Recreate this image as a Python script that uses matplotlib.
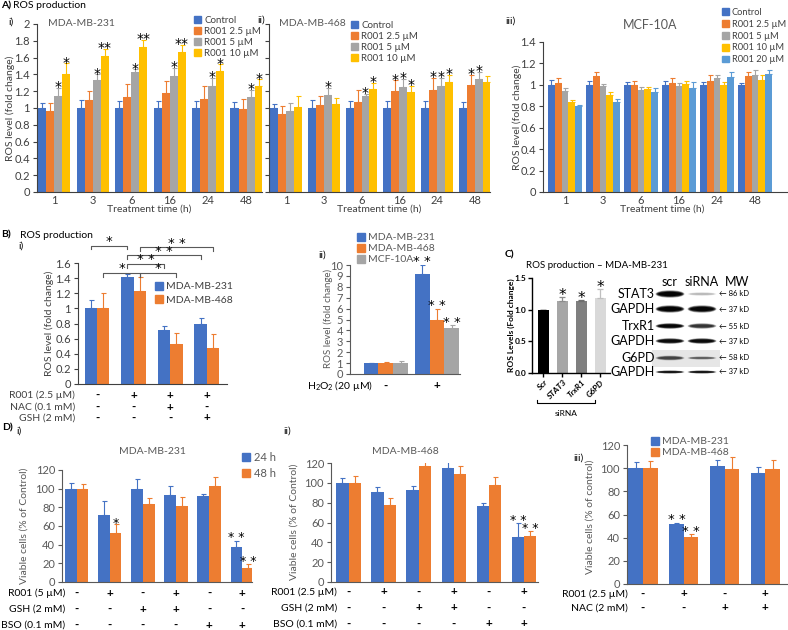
import numpy as np
import matplotlib.pyplot as plt
from matplotlib.patches import Patch, Ellipse, Rectangle
from matplotlib.transforms import blended_transform_factory
from matplotlib.ticker import FuncFormatter

plt.rcParams['font.family'] = ['Lato', 'DejaVu Sans']
plt.rcParams['mathtext.default'] = 'regular'

W, H = 788, 630
fig = plt.figure(figsize=(W / 100, H / 100), dpi=100)

BLUE, ORANGE, GREY, YELLOW, LBLUE = '#4472C4', '#ED7D31', '#A5A5A5', '#FFC000', '#5B9BD5'
DARK = '#404040'
MID = '#595959'

# ---------------- data ----------------
times = ['1', '3', '6', '16', '24', '48']
doses4 = ['Control', 'R001 2.5 µM', 'R001 5 µM', 'R001 10 µM']
doses5 = doses4 + ['R001 20 µM']

# A-i  MDA-MB-231
a1_mean = [[1, 1, 1, 1, 1, 1],
           [0.97, 1.09, 1.13, 1.18, 1.11, 0.99],
           [1.14, 1.33, 1.43, 1.38, 1.26, 1.13],
           [1.40, 1.62, 1.73, 1.67, 1.44, 1.26]]
a1_err = [[0.06, 0.10, 0.08, 0.08, 0.08, 0.07],
          [0.09, 0.11, 0.15, 0.14, 0.15, 0.12],
          [0.10, 0.07, 0.03, 0.10, 0.10, 0.09],
          [0.13, 0.08, 0.08, 0.08, 0.08, 0.08]]
a1_stars = [['', '', '', '', '', ''],
            ['', '', '', '', '', ''],
            ['*', '*', '*', '*', '*', '*'],
            ['*', '**', '**', '**', '*', '*']]

# A-ii  MDA-MB-468
a2_mean = [[1, 1, 1, 1, 1, 1],
           [0.93, 1.03, 1.07, 1.20, 1.21, 1.27],
           [0.97, 1.16, 1.14, 1.25, 1.26, 1.34],
           [1.01, 1.05, 1.23, 1.19, 1.31, 1.31]]
a2_err = [[0.05, 0.10, 0.08, 0.08, 0.08, 0.07],
          [0.09, 0.11, 0.15, 0.13, 0.15, 0.12],
          [0.09, 0.08, 0.03, 0.10, 0.10, 0.09],
          [0.13, 0.07, 0.07, 0.07, 0.08, 0.07]]
a2_stars = [['', '', '', '', '', ''],
            ['', '', '', '*', '*', '*'],
            ['', '*', '*', '*', '*', '*'],
            ['', '', '*', '*', '*', '']]

# A-iii  MCF-10A
a3_mean = [[1, 1, 1, 1, 1, 1],
           [1.02, 1.08, 1.00, 1.02, 1.04, 1.08],
           [0.94, 0.99, 0.95, 0.99, 1.06, 1.09],
           [0.84, 0.91, 0.96, 1.01, 1.00, 1.05],
           [0.80, 0.84, 0.93, 0.97, 1.07, 1.10]]
a3_err = [[0.05, 0.04, 0.03, 0.04, 0.03, 0.02],
          [0.04, 0.04, 0.04, 0.04, 0.05, 0.04],
          [0.03, 0.02, 0.03, 0.03, 0.03, 0.05],
          [0.02, 0.02, 0.02, 0.03, 0.03, 0.04],
          [0.01, 0.03, 0.04, 0.06, 0.05, 0.04]]

# B-i
cells2 = ['MDA-MB-231', 'MDA-MB-468']
b1_mean = [[1.00, 1.42, 0.71, 0.80],
           [1.00, 1.23, 0.53, 0.48]]
b1_err = [[0.11, 0.03, 0.06, 0.07],
          [0.20, 0.18, 0.15, 0.18]]
b1_rows = ['R001 (2.5 µM)', 'NAC (0.1 mM)', 'GSH (2 mM)']
b1_signs = [['-', '+', '+', '+'],
            ['-', '-', '+', '-'],
            ['-', '-', '-', '+']]
# significance brackets: (group a, series a, group b, series b, level, label)
b1_brackets = [(0, 0, 1, 0, 1.83, '*'),
               (1, 1, 3, 1, 1.81, '* *'),
               (1, 0, 3, 0, 1.70, '* *'),
               (1, 0, 2, 0, 1.59, '* *'),
               (0, 1, 1, 1, 1.47, '*'),
               (1, 1, 2, 1, 1.47, '*')]

# B-ii
cells3 = ['MDA-MB-231', 'MDA-MB-468', 'MCF-10A']
b2_mean = [[1.0, 9.2], [1.0, 4.95], [1.0, 4.2]]
b2_err = [[0.05, 0.8], [0.10, 1.05], [0.15, 0.25]]
b2_stars = [['', '* *'], ['', '* *'], ['', '* *']]
b2_signs = ['-', '+']

# C
c_cats = ['Scr', 'STAT3', 'TrxR1', 'G6PD']
c_mean = [1.0, 1.13, 1.13, 1.18]
c_err = [0.0, 0.07, 0.03, 0.15]
c_stars = ['', '*', '*', '*']
c_colors = ['#000000', '#A6A6A6', '#7F7F7F', '#D9D9D9']
c_ecolors = ['#000000', '#8C8C8C', '#6E6E6E', '#BFBFBF']
blot_rows = ['STAT3', 'GAPDH', 'TrxR1', 'GAPDH', 'G6PD', 'GAPDH']
blot_mw = ['86 kD', '37 kD', '55 kD', '37 kD', '58 kD', '37 kD']
blot_scr = [1.0, 1.0, 0.95, 0.9, 0.5, 0.85]
blot_sirna = [0.15, 0.95, 0.6, 0.9, 0.4, 0.85]

# D-i
times2 = ['24 h', '48 h']
d1_mean = [[100, 72, 100, 93, 92, 37],
           [100, 52, 84, 81, 103, 15]]
d1_err = [[6, 15, 10, 10, 2, 7],
          [5, 10, 6, 10, 10, 4]]
d1_stars = [['', '', '', '', '', '* *'],
            ['', '*', '', '', '', '* *']]
d1_rows = ['R001 (5 µM)', 'GSH (2 mM)', 'BSO (0.1 mM)']
d_signs = [['-', '+', '-', '+', '-', '+'],
           ['-', '-', '+', '+', '-', '-'],
           ['-', '-', '-', '-', '+', '+']]

# D-ii
d2_mean = [[100, 91, 93, 115, 77, 45],
           [100, 78, 117, 109, 98, 46]]
d2_err = [[5, 5, 4, 7, 3, 14],
          [7, 7, 8, 8, 8, 5]]
d2_stars = [['', '', '', '', '', '* *'],
            ['', '', '', '', '', '* *']]
d2_rows = ['R001 (2.5 µM)', 'GSH (2 mM)', 'BSO (0.1 mM)']

# D-iii
d3_mean = [[100, 52, 102, 96],
           [100, 41, 99, 99]]
d3_err = [[5, 1, 5, 5],
          [6, 2, 11, 8]]
d3_stars = [['', '* *', '', ''],
            ['', '* *', '', '']]
d3_rows = ['R001 (2.5 µM)', 'NAC (2 mM)']
d3_signs = [['-', '+', '-', '+'],
            ['-', '-', '+', '+']]

STAR = dict(family=['DejaVu Sans'], color='black')


# ---------------- helpers ----------------
def px_axes(l, t, r, b):
    return fig.add_axes([l / W, 1 - b / H, (r - l) / W, (b - t) / H])


def ftext(x, y, s, **kw):
    kw.setdefault('fontsize', 7.5)
    kw.setdefault('va', 'center')
    return fig.text(x / W, 1 - y / H, s, **kw)


def frame(ax, ymax, step, color=DARK, ticklabels=True, fs=8):
    for sp in ['top', 'right']:
        ax.spines[sp].set_visible(False)
    for sp in ['left', 'bottom']:
        ax.spines[sp].set_color(color)
        ax.spines[sp].set_linewidth(0.8)
    ax.set_ylim(0, ymax)
    ax.set_yticks(np.arange(0, ymax + step / 2, step))
    ax.yaxis.set_major_formatter(FuncFormatter(lambda v, p: f'{v:g}'))
    ax.tick_params(axis='y', length=3, width=0.8, color=color, labelsize=fs,
                   labelcolor=color, pad=2, labelleft=ticklabels)
    ax.tick_params(axis='x', length=0, labelsize=fs, labelcolor=color, pad=2)
    ax.patch.set_alpha(0)


def bars(ax, means, errs, colors, width, xlim, labels=None, stars=None, star_fs=10):
    n = len(means)
    x = np.arange(len(means[0]))
    for i in range(n):
        pos = x + (i - (n - 1) / 2) * width
        m = np.array(means[i], float)
        e = np.array(errs[i], float)
        ax.bar(pos, m, width, color=colors[i],
               label=labels[i] if labels else None, zorder=2)
        ax.errorbar(pos, m, yerr=[np.zeros_like(e), e], fmt='none',
                    ecolor=colors[i], elinewidth=0.8, capsize=1.8,
                    capthick=0.8, zorder=2)
        if stars:
            for xx, top, s in zip(pos, m + e, stars[i]):
                if s:
                    off = -2.5 if ' ' in s else -4.5
                    ax.annotate(s, (xx, top), xytext=(0, off),
                                textcoords='offset points', ha='center',
                                va='bottom', fontsize=star_fs,
                                annotation_clip=False, **STAR)
    ax.set_xlim(*xlim)
    ax.set_xticks(x)
    return x


def legend(ax, labels, colors, x, y, fs=7, color=DARK, spacing=0.12):
    handles = [Patch(color=c, label=l) for l, c in zip(labels, colors)]
    ax.legend(handles=handles, loc='upper left', bbox_to_anchor=(x / W, 1 - y / H),
              bbox_transform=fig.transFigure, frameon=False, fontsize=fs,
              borderaxespad=0, borderpad=0, labelspacing=spacing,
              handlelength=0.75, handleheight=0.75, handletextpad=0.3,
              labelcolor=color)


def cond_rows(ax, names, signs, ys, xr, color=DARK, fs=7.5):
    trans = blended_transform_factory(ax.transData, fig.transFigure)
    for name, row, y in zip(names, signs, ys):
        ftext(xr, y, name, ha='right', fontsize=fs, color=color)
        for i, s in enumerate(row):
            ax.text(i, 1 - y / H, s, transform=trans, ha='center', va='center',
                    fontsize=fs + 1, fontweight='bold', color='black')


# ---------------- Panel A ----------------
ftext(1, 6, 'A)', fontweight='bold', color='black')
ftext(13, 6, 'ROS production', color='black')

ax = px_axes(37, 24, 262, 192)
bars(ax, a1_mean, a1_err, [BLUE, ORANGE, GREY, YELLOW], 0.21, (-0.45, 5.4),
     doses4, a1_stars)
frame(ax, 2, 0.2)
ax.set_xticklabels(times)
ftext(8, 22, 'i)', color='black')
ftext(81, 24, 'MDA-MB-231', ha='center', color=MID)
ftext(10, 108, 'ROS level (fold change)', rotation=90, ha='center', color=DARK)
ftext(149, 209, 'Treatment time (h)', ha='center', color=DARK)
legend(ax, doses4, [BLUE, ORANGE, GREY, YELLOW], 194, 16, spacing=0.2)

ax = px_axes(269, 24, 490, 192)
bars(ax, a2_mean, a2_err, [BLUE, ORANGE, GREY, YELLOW], 0.21, (-0.45, 5.4),
     doses4, a2_stars)
frame(ax, 2, 0.2, ticklabels=False)
ax.set_xticklabels(times)
ftext(257, 20, 'ii)', color='black')
ftext(312, 24, 'MDA-MB-468', ha='center', color=MID)
ftext(379, 209, 'Treatment time (h)', ha='center', color=DARK)
legend(ax, doses4, [BLUE, ORANGE, GREY, YELLOW], 351, 21, spacing=0.2)

ax = px_axes(543, 42, 787, 192)
bars(ax, a3_mean, a3_err, [BLUE, ORANGE, GREY, YELLOW, LBLUE], 0.18, (-0.58, 5.84),
     doses5)
frame(ax, 1.4, 0.2)
ax.set_xticklabels(times)
ftext(505, 21, 'iii)', color='black')
ftext(650, 25, 'MCF-10A', ha='center', color=MID, fontsize=9)
ftext(517, 117, 'ROS level (fold change)', rotation=90, ha='center', color=DARK)
ftext(662, 209, 'Treatment time (h)', ha='center', color=DARK)
legend(ax, doses5, [BLUE, ORANGE, GREY, YELLOW, LBLUE], 722, 8, fs=6.7, spacing=0.3)

# ---------------- Panel B ----------------
ftext(1, 235, 'B)', fontweight='bold', color='black')
ftext(20, 235, 'ROS production', color='black')
ftext(18, 246, 'i)', color='black')

ax = px_axes(78, 263, 227, 384)
bw = 0.34
bars(ax, b1_mean, b1_err, [BLUE, ORANGE], bw, (-0.52, 3.55), cells2)
frame(ax, 1.6, 0.2)
ax.set_xticklabels([])
ftext(49, 323, 'ROS level (fold change)', rotation=90, ha='center', color=DARK)
legend(ax, cells2, [BLUE, ORANGE], 155, 282, fs=7.5, spacing=0.35)
for ga, sa, gb, sb, lev, lab in b1_brackets:
    xa = ga + (sa - 0.5) * bw
    xb = gb + (sb - 0.5) * bw
    ax.plot([xa, xa, xb, xb], [lev - 0.05, lev, lev, lev - 0.05], color='#595959',
            lw=0.8, clip_on=False)
    ax.text((xa + xb) / 2, lev - 0.035, lab, ha='center', va='bottom',
            fontsize=9.5, clip_on=False, **STAR)
cond_rows(ax, b1_rows, b1_signs, [395, 407, 418], 75)

ax = px_axes(350, 265, 460, 374)
bars(ax, b2_mean, b2_err, [BLUE, ORANGE, GREY], 0.29, (-0.7, 1.45), cells3, b2_stars,
     star_fs=9.5)
frame(ax, 10, 1, color=MID)
ax.set_xticklabels([])
ftext(318, 255, 'ii)', color='black')
ftext(328, 318, 'ROS level (fold change)', rotation=90, ha='center', color=MID,
      fontsize=7)
legend(ax, cells3, [BLUE, ORANGE, GREY], 357, 233, fs=7.5, color=MID, spacing=0.15)
cond_rows(ax, ['H$_2$O$_2$ (20 µM)'], [b2_signs], [386], 373, color='black')

# ---------------- Panel C ----------------
ftext(505, 255, 'C)', fontweight='bold', color='black')
ftext(597, 265, 'ROS production – MDA-MB-231', ha='center', color='black', fontsize=7)

ax = px_axes(532, 278, 610, 373)
xc = np.arange(len(c_cats))
ax.bar(xc, c_mean, 0.62, color=c_colors, zorder=2)
for xx, m, e, ec, s in zip(xc, c_mean, c_err, c_ecolors, c_stars):
    ax.errorbar([xx], [m], yerr=[[0], [e]], fmt='none', ecolor=ec,
                elinewidth=0.9, capsize=2, capthick=0.9)
    if s:
        ax.annotate(s, (xx, m + e), xytext=(0, -4.5), textcoords='offset points',
                    ha='center', va='bottom', fontsize=11, **STAR)
ax.set_xlim(-0.6, 3.5)
ax.set_ylim(0, 1.5)
ax.set_yticks([0, 0.5, 1.0, 1.5])
ax.yaxis.set_major_formatter(FuncFormatter(lambda v, p: f'{v:.1f}'))
for sp in ['top', 'right']:
    ax.spines[sp].set_visible(False)
for sp in ['left', 'bottom']:
    ax.spines[sp].set_linewidth(1.0)
ax.tick_params(axis='y', length=3, width=1, labelsize=6, pad=1)
ax.tick_params(axis='x', length=3, width=1, labelsize=6, pad=1)
ax.set_xticks(xc)
ax.set_xticklabels(c_cats, rotation=45, ha='right', rotation_mode='anchor',
                   fontstyle='italic', fontweight='bold')
for lbl in ax.get_yticklabels():
    lbl.set_fontweight('bold')
ax.patch.set_alpha(0)
ftext(511, 325, 'ROS Levels (Fold change)', rotation=90, ha='center',
      fontsize=6, fontweight='bold', color='black')

# ---------------- Panel D ----------------
ftext(2, 428, 'D)', fontweight='bold', color='black')
ftext(16, 431, 'i)', color='black')

ax = px_axes(62, 470, 252, 582)
bars(ax, d1_mean, d1_err, [BLUE, ORANGE], 0.35, (-0.45, 5.3), times2, d1_stars,
     star_fs=9)
frame(ax, 120, 20, color=MID)
ax.set_xticklabels([])
ftext(152, 452, 'MDA-MB-231', ha='center', color=MID)
ftext(24, 526, 'Viable cells (% of Control)', rotation=90, ha='center', color=MID)
legend(ax, times2, [BLUE, ORANGE], 242, 452, fs=8, color=MID, spacing=0.45)
cond_rows(ax, d1_rows, d_signs, [593, 609, 625], 65, color='black')

ax = px_axes(331, 463, 538, 582)
bars(ax, d2_mean, d2_err, [BLUE, ORANGE], 0.35, (-0.5, 5.4), times2, d2_stars,
     star_fs=9)
frame(ax, 120, 20, color=MID)
ax.set_xticklabels([])
ftext(283, 431, 'ii)', color='black')
ftext(405, 452, 'MDA-MB-468', ha='center', color=MID)
ftext(294, 522, 'Viable cells (% of Control)', rotation=90, ha='center', color=MID)
cond_rows(ax, d2_rows, d_signs, [592, 608, 624], 337, color='black')

ax = px_axes(627, 445, 787, 584)
bars(ax, d3_mean, d3_err, [BLUE, ORANGE], 0.36, (-0.39, 3.53), cells2, d3_stars,
     star_fs=9.5)
frame(ax, 120, 20, color=MID)
ax.set_xticklabels([])
ftext(573, 458, 'iii)', color='black')
ftext(590, 517, 'Viable cells (% of control)', rotation=90, ha='center', color=MID)
legend(ax, cells2, [BLUE, ORANGE], 651, 437, fs=7.5, color=MID, spacing=0.15)
cond_rows(ax, d3_rows, d3_signs, [594, 608], 628, color='black')

# ---------------- overlay: western blot and siRNA bracket ----------------
ov = fig.add_axes([0, 0, 1, 1])
ov.set_xlim(0, W)
ov.set_ylim(H, 0)
ov.axis('off')

ov.plot([537, 537, 595, 595], [400, 403, 403, 400], color='black', lw=0.8)
ftext(566, 413, 'siRNA', ha='center', fontsize=6, color='black')

ftext(670, 282, 'scr', ha='center', fontsize=9, color='black')
ftext(702, 282, 'siRNA', ha='center', fontsize=9, color='black')
ftext(737, 282, 'MW', ha='center', fontsize=9, color='black')
row_y = [294, 309, 326, 341, 358, 372]
row_h = [6, 6, 4.5, 4.5, 4, 2.5]
ov.add_patch(Rectangle((652, 350), 68, 17, color='#E6E6E6', lw=0))
for y, h, name, mw, a_s, a_r in zip(row_y, row_h, blot_rows, blot_mw,
                                     blot_scr, blot_sirna):
    ftext(655, y, name, ha='right', fontsize=9, color='black')
    ftext(719, y, '\u2190 ' + mw, ha='left', fontsize=5.5, color='black')
    for xc_, a in [(670, a_s), (702, a_r)]:
        hh = h * (0.4 + 0.6 * a) if a < 0.5 else h
        for k, sc in enumerate([1.25, 1.0, 0.7]):
            ov.add_patch(Ellipse((xc_, y), 27 * sc ** 0.3, hh * sc,
                                 color='black', alpha=min(1, a * (0.35 + 0.3 * k)), lw=0))

fig.savefig('out.png', dpi=100)
